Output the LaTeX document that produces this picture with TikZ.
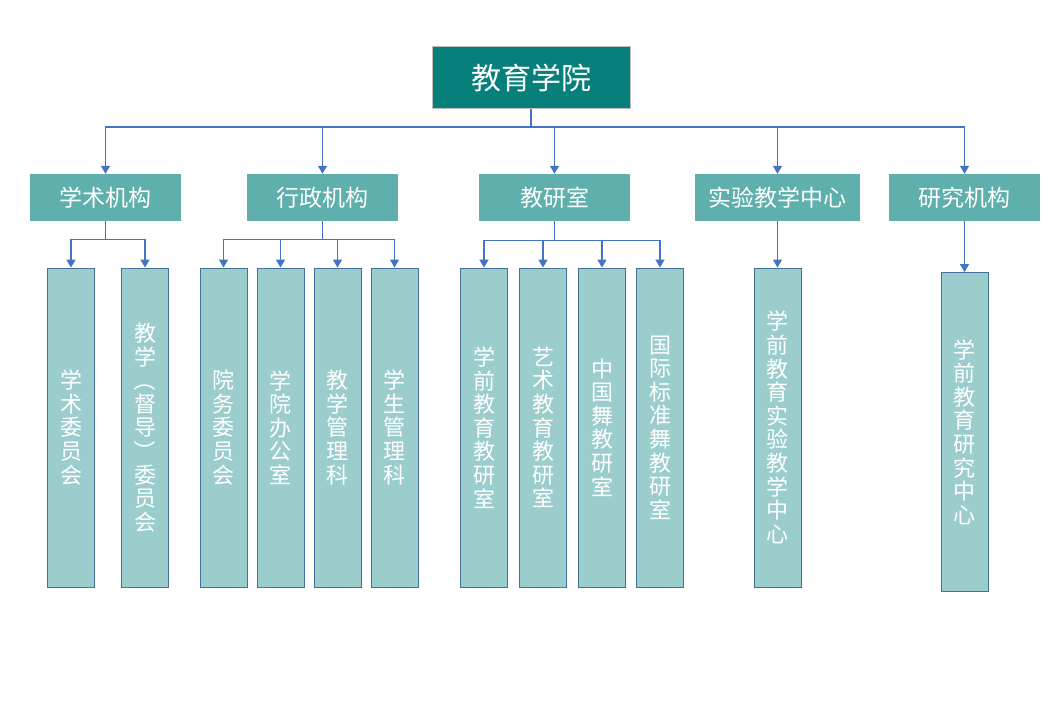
\documentclass[tikz,border=0pt]{standalone}
\usepackage{fontspec}
\setmainfont{Noto Sans CJK SC}
\usepackage{graphicx}
\usepackage{tikz}
\usetikzlibrary{arrows.meta, positioning, calc}
\definecolor{rootFill}{HTML}{077F7B}
\definecolor{rootBorder}{HTML}{BFBFBF}
\definecolor{deptFill}{HTML}{5FAFAC}
\definecolor{unitFill}{HTML}{9CCDCD}
\definecolor{unitBorder}{HTML}{41719C}
\definecolor{linkBlue}{HTML}{4472C4}
\newcommand{\vparL}{\rotatebox[origin=c]{-90}{（}}
\newcommand{\vparR}{\rotatebox[origin=c]{-90}{）}}

\begin{document}
\begin{tikzpicture}[
    x=1pt, y=-1pt,
    root/.style={rectangle, draw=rootBorder, fill=rootFill, line width=1pt,
                 minimum width=198pt, minimum height=62pt, inner sep=0pt,
                 text=white, font=\fontsize{30}{32}\selectfont},
    dept/.style={rectangle, fill=deptFill, minimum width=#1, minimum height=47pt,
                 inner sep=0pt, text=white, font=\fontsize{23}{25}\selectfont},
    unit/.style={rectangle, draw=unitBorder, fill=unitFill, line width=0.9pt,
                 minimum width=47pt, minimum height=319pt, inner sep=0pt,
                 text width=24pt, align=center, text=white,
                 font=\fontsize{22}{23.6}\selectfont},
    link/.style={draw=linkBlue, line width=1.4pt},
    arrow/.style={link, -{Triangle[length=8pt, width=9pt]}},
]
\useasboundingbox (0,0) rectangle (1054,714);

% ── Top ──
\node[root] (college) at (531,78) {教育学院};
\coordinate (bus) at (531,127);

% ── Level 2 ──
\node[dept=151pt] (acad)  at (105.5,197.5) {学术机构};
\node[dept=151pt] (admin) at (322.5,197.5) {行政机构};
\node[dept=151pt] (teach) at (554.5,197.5) {教研室};
\node[dept=165pt] (lab)   at (777.5,197.5) {实验教学中心};
\node[dept=151pt] (rsch)  at (964.5,197.5) {研究机构};

% ── Level 3: 学术机构 ──
\node[unit] (acad1) at (71,427.5)  {学\\术\\委\\员\\会};
\node[unit] (acad2) at (145,427.5) {教\\学\\\vparL\\督\\导\\\vparR\\委\\员\\会};

% ── Level 3: 行政机构 ──
\node[unit] (admin1) at (223.5,427.5) {院\\务\\委\\员\\会};
\node[unit] (admin2) at (280.5,427.5) {学\\院\\办\\公\\室};
\node[unit] (admin3) at (337.5,427.5) {教\\学\\管\\理\\科};
\node[unit] (admin4) at (394.5,427.5) {学\\生\\管\\理\\科};

% ── Level 3: 教研室 ──
\node[unit] (teach1) at (484,427.5) {学\\前\\教\\育\\教\\研\\室};
\node[unit] (teach2) at (543,427.5) {艺\\术\\教\\育\\教\\研\\室};
\node[unit] (teach3) at (602,427.5) {中\\国\\舞\\教\\研\\室};
\node[unit] (teach4) at (660,427.5) {国\\际\\标\\准\\舞\\教\\研\\室};

% ── Level 3: centres ──
\node[unit] (lab1)  at (777.5,427.5) {学\\前\\教\\育\\实\\验\\教\\学\\中\\心};
\node[unit] (rsch1) at (964.5,432)   {学\\前\\教\\育\\研\\究\\中\\心};

% ── Arrows ──
\draw[link] (college.south) -- (bus);
\foreach \d in {acad, admin, teach, lab, rsch}
  \draw[arrow] (bus) -| (\d.north);

\foreach \u in {acad1, acad2}
  \draw[arrow] (acad.south) -- ++(0,18) -| (\u.north);
\foreach \u in {admin1, admin2, admin3, admin4}
  \draw[arrow] (admin.south) -- ++(0,18) -| (\u.north);
\foreach \u in {teach1, teach2, teach3, teach4}
  \draw[arrow] (teach.south) -- ++(0,19) -| (\u.north);
\draw[arrow] (lab.south) -- (lab1.north);
\draw[arrow] (rsch.south) -- (rsch1.north);

\end{tikzpicture}
\end{document}
